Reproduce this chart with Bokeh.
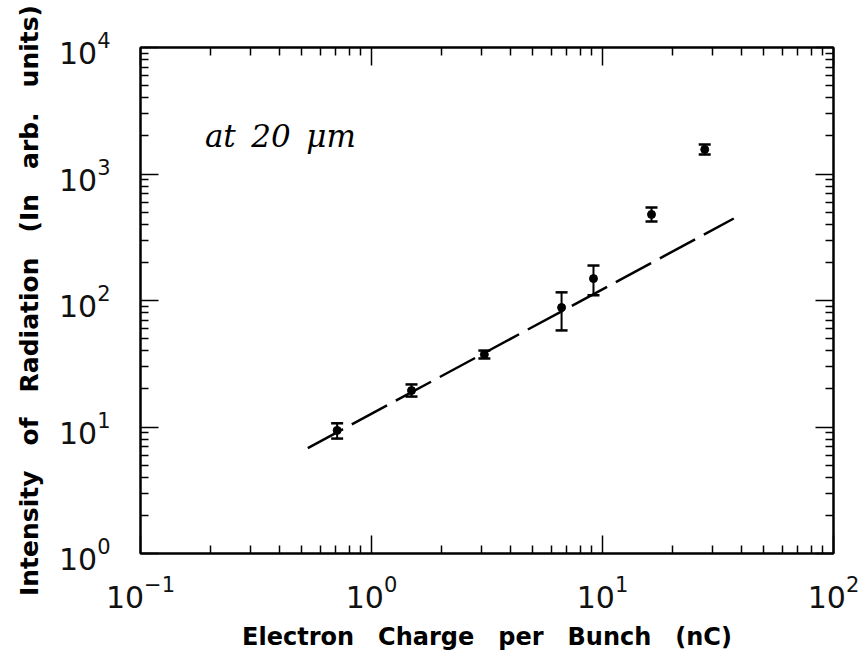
from bokeh.plotting import figure
from bokeh.models import (ColumnDataSource, Whisker, TeeHead, LogAxis, Label,
                          FixedTicker, LogTickFormatter, CustomJSTickFormatter)
from bokeh.embed import file_html
from bokeh.resources import INLINE

# Measured radiation intensity vs. electron charge per bunch (at 20 um)
charge_nc = [0.71, 1.49, 3.08, 6.65, 9.14, 16.3, 27.7]
intensity = [9.4, 19.4, 37.4, 88.0, 149.0, 479.0, 1563.0]
intensity_upper = [10.7, 21.7, 40.2, 116.0, 189.0, 544.0, 1712.0]
intensity_lower = [8.1, 17.4, 34.8, 58.0, 110.0, 422.0, 1427.0]

# Linear (slope ~1) fit drawn as a long-dashed line
fit_charge = [0.53, 37.0]
fit_intensity = [6.8, 445.0]

x_major_ticks = [0.1, 1, 10, 100]
y_major_ticks = [1, 10, 100, 1000, 10000]

EM = "\u2003"   # wide word gaps, as in the typeset labels
EN = "\u2002"


def minor_ticks(majors):
    return [m * k for m in majors[:-1] for k in range(2, 10)]


src = ColumnDataSource(dict(x=charge_nc, y=intensity,
                            upper=intensity_upper, lower=intensity_lower))

p = figure(width=861, height=656,
           x_axis_type="log", y_axis_type="log",
           x_range=(0.1, 100), y_range=(1, 1e4),
           output_backend="svg", toolbar_location=None,
           min_border_left=140, min_border_right=28,
           min_border_top=47, min_border_bottom=103,
           background_fill_color="white", border_fill_color="white")

p.grid.visible = False
p.outline_line_color = "black"
p.outline_line_width = 2

xticker = FixedTicker(ticks=x_major_ticks, minor_ticks=minor_ticks(x_major_ticks))
yticker = FixedTicker(ticks=y_major_ticks, minor_ticks=minor_ticks(y_major_ticks))

top_axis = LogAxis()
right_axis = LogAxis()
p.add_layout(top_axis, "above")
p.add_layout(right_axis, "right")

for ax in p.xaxis:
    ax.ticker = xticker
for ax in p.yaxis:
    ax.ticker = yticker

for ax in [*p.xaxis, *p.yaxis]:
    ax.axis_line_width = 2
    ax.axis_line_color = "black"
    ax.major_tick_in = 18
    ax.major_tick_out = 0
    ax.minor_tick_in = 8
    ax.minor_tick_out = 0
    ax.major_tick_line_width = 1.5
    ax.minor_tick_line_width = 1.5
    ax.major_tick_line_color = "black"
    ax.minor_tick_line_color = "black"
    ax.major_label_text_font = "DejaVu Sans"
    ax.major_label_text_font_size = "30px"
    ax.major_label_text_color = "#111111"

# frame axes on top and right carry ticks only
for ax in (top_axis, right_axis):
    ax.formatter = CustomJSTickFormatter(code="return ''")
    ax.major_label_standoff = 0

bx = p.below[0]
bx.formatter = LogTickFormatter()
bx.major_label_standoff = 21
bx.axis_label = EM.join(["Electron", "Charge", "per", "Bunch", "(nC)"])
bx.axis_label_standoff = 12
bx.axis_label_text_font = "DejaVu Sans"
bx.axis_label_text_font_style = "bold"
bx.axis_label_text_font_size = "24px"
bx.axis_label_text_color = "black"

ly = p.left[0]
ly.formatter = LogTickFormatter()
ly.major_label_standoff = 30
ly.axis_label = EM.join(["Intensity", "of", "Radiation", "(In", "arb.", "units)"])
ly.axis_label_standoff = 12
ly.axis_label_text_font = "DejaVu Sans"
ly.axis_label_text_font_style = "bold"
ly.axis_label_text_font_size = "25px"
ly.axis_label_text_color = "black"

# fit line
p.line(fit_charge, fit_intensity, line_color="black", line_width=2.5,
       line_dash="40 10")

# error bars and data points
p.add_layout(Whisker(source=src, base="x", upper="upper", lower="lower",
                     dimension="height", line_color="black", line_width=2,
                     upper_head=TeeHead(size=12, line_width=2.5, line_color="black"),
                     lower_head=TeeHead(size=12, line_width=2.5, line_color="black")))
p.scatter("x", "y", source=src, size=8, color="black")

p.add_layout(Label(x=0.19, y=2014, text=EN.join(["at", "20", "μm"]),
                   text_font="DejaVu Serif", text_font_style="italic",
                   text_font_size="31px", text_color="black",
                   text_baseline="alphabetic"))

open("out.html", "w").write(file_html(p, INLINE))
